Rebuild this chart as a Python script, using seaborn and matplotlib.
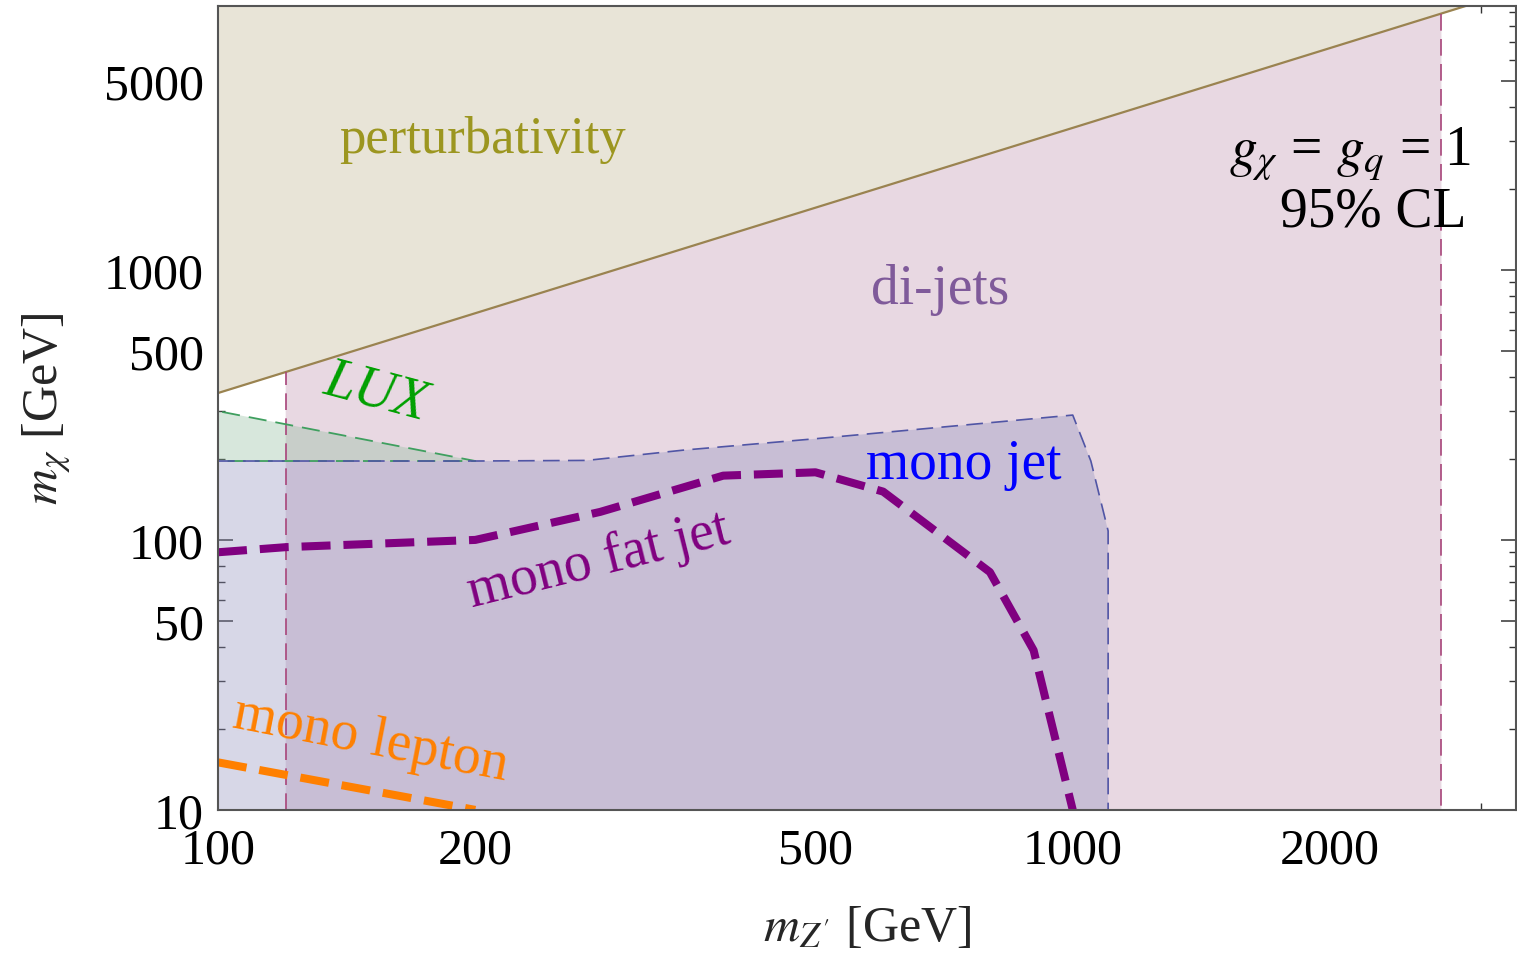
import matplotlib
matplotlib.use("Agg")
import matplotlib.pyplot as plt
from matplotlib.ticker import FixedLocator, NullFormatter
import seaborn as sns

# -- Дані (GeV)

# межа пертурбативності (зверху - заборонено)
PERT_MZ = [100, 3300]
PERT_MCHI = [350, 10850]

# di-jets: вертикальні межі та верхній край по лінії пертурбативності
DIJET_MZ = [120, 120, 2700, 2700]
DIJET_MCHI = [10, 420, 8900, 10]

# mono jet
MONOJET_MZ = [100, 100, 200, 270, 350, 500, 1000, 1050, 1100, 1100]
MONOJET_MCHI = [10, 196, 196, 197, 215, 237, 290, 196, 108, 10]

# LUX
LUX_MZ = [100, 100, 200]
LUX_MCHI = [196, 300, 196]

# mono fat jet
FATJET_MZ = [100, 120, 200, 280, 390, 500, 600, 800, 900, 1000]
FATJET_MCHI = [90, 94, 100, 127, 173, 178, 151, 76, 39, 10]

# mono lepton
LEPTON_MZ = [100, 200]
LEPTON_MCHI = [15, 10]

X_MAJOR = [100, 200, 500, 1000, 2000]
Y_MAJOR = [10, 50, 100, 500, 1000, 5000]

XLIM = (100, 3300)
YLIM = (10, 9500)

# -- Стиль

sns.set_theme(style="ticks")
plt.rcParams['font.family'] = ['Liberation Serif', 'DejaVu Serif']
plt.rcParams['mathtext.fontset'] = 'stix'

fig = plt.figure(figsize=(15.17, 9.54), dpi=100)
ax = fig.add_axes([0.1437, 0.150, 0.8556, 0.8427])
ax.set_xscale('log')
ax.set_yscale('log')

dash_thin = (0, (10, 5))

# -- Області

# пертурбативність
ax.fill_between(PERT_MZ, PERT_MCHI, 1e6, color='#e8e4d7', lw=0, zorder=1)
sns.lineplot(x=PERT_MZ, y=PERT_MCHI, ax=ax, color='#9a8350', lw=1.6, zorder=5)

# di-jets
ax.fill(DIJET_MZ, DIJET_MCHI, color='#e8d8e2', lw=0, zorder=1)
ax.plot(DIJET_MZ[:2], DIJET_MCHI[:2], color='#a8457a', lw=1.2,
        linestyle=dash_thin, zorder=6)
ax.plot(DIJET_MZ[2:], DIJET_MCHI[2:], color='#a8457a', lw=1.2,
        linestyle=dash_thin, zorder=6)

# LUX
ax.fill(LUX_MZ, LUX_MCHI, color='#8dbd9b', alpha=0.35, lw=0, zorder=2)
ax.plot(LUX_MZ + [LUX_MZ[0]], LUX_MCHI + [LUX_MCHI[0]], color='#3f9f5f',
        lw=1.3, linestyle=dash_thin, zorder=6)

# mono jet
ax.fill(MONOJET_MZ, MONOJET_MCHI, color='#8f8fbd', alpha=0.35, lw=0, zorder=3)
ax.plot(MONOJET_MZ[1:], MONOJET_MCHI[1:], color='#5055a5', lw=1.2,
        linestyle=dash_thin, zorder=6)

# лінії mono fat jet та mono lepton
sns.lineplot(x=FATJET_MZ, y=FATJET_MCHI, sort=False, ax=ax, color='#800080',
             lw=5.8, linestyle=(0, (3.6, 1.6)), zorder=7)
sns.lineplot(x=LEPTON_MZ, y=LEPTON_MCHI, sort=False, ax=ax, color='#ff8000',
             lw=5.8, linestyle=(0, (3.6, 1.6)), zorder=7)

# -- Підписи

ax.text(204, 3050, 'perturbativity', color='#9c9620', fontsize=38,
        ha='center', va='center', zorder=10)
ax.text(700, 850, 'di-jets', color='#7f5a9a', fontsize=40,
        ha='center', va='center', zorder=10)
ax.text(2110, 2690, r'$g_\chi$ = $g_q$ = 1', color='black', fontsize=40,
        ha='center', va='center', zorder=10)
ax.text(2245, 1640, '95% CL', color='black', fontsize=40,
        ha='center', va='center', zorder=10)
ax.text(153, 353, 'LUX', color='#00a000', fontsize=40, style='italic',
        rotation=-15, ha='center', va='center', zorder=10)
ax.text(745, 191, 'mono jet', color='#0000ff', fontsize=40,
        ha='center', va='center', zorder=10)
ax.text(279, 84, 'mono fat jet', color='#800080', fontsize=40,
        rotation=14, ha='center', va='center', zorder=10)
ax.text(151, 18.3, 'mono lepton', color='#ff8000', fontsize=40,
        rotation=-11, ha='center', va='center', zorder=10)

# -- Осі

ax.set_xlim(*XLIM)
ax.set_ylim(*YLIM)

ax.xaxis.set_major_locator(FixedLocator(X_MAJOR))
ax.xaxis.set_minor_locator(FixedLocator([300, 400, 600, 700, 800, 900, 3000]))
ax.set_xticks(X_MAJOR)
ax.set_xticklabels([str(v) for v in X_MAJOR])
ax.xaxis.set_minor_formatter(NullFormatter())

y_minor = [m * d for d in (10, 100, 1000) for m in (2, 3, 4, 6, 7, 8, 9)]
ax.yaxis.set_major_locator(FixedLocator(Y_MAJOR))
ax.yaxis.set_minor_locator(FixedLocator(y_minor))
ax.set_yticks(Y_MAJOR)
ax.set_yticklabels([str(v) for v in Y_MAJOR])
ax.yaxis.set_minor_formatter(NullFormatter())

ax.tick_params(which='both', direction='in', top=True, right=True,
               colors='#333333', labelcolor='black', labelsize=36)
ax.tick_params(which='major', length=11, width=1.1)
ax.tick_params(axis='x', which='major', pad=12)
ax.tick_params(axis='y', which='major', pad=10)
ax.tick_params(which='minor', length=5, width=1.0)
for sp in ax.spines.values():
    sp.set_color('#555555')
    sp.set_linewidth(1.5)
    sp.set_zorder(20)

ax.set_xlabel(r"$m_{Z'}$ [GeV]", fontsize=36)
ax.set_ylabel(r"$m_\chi$ [GeV]", fontsize=36)
ax.xaxis.set_label_coords(0.5, -0.118)
ax.yaxis.set_label_coords(-0.112, 0.5)

fig.savefig("out.png", dpi=100)
